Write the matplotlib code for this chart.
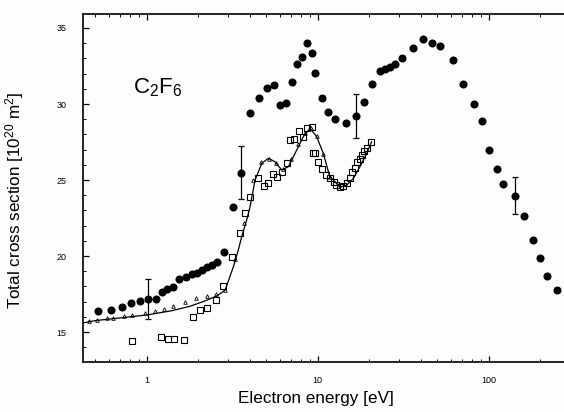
import matplotlib
matplotlib.use("Agg")
import matplotlib.pyplot as plt
from matplotlib.ticker import FixedLocator, NullFormatter

plt.rcParams["font.family"] = ["Liberation Sans", "DejaVu Sans"]
plt.rcParams["mathtext.fontset"] = "custom"
plt.rcParams["mathtext.rm"] = "Liberation Sans"
plt.rcParams["mathtext.it"] = "Liberation Sans:italic"
plt.rcParams["mathtext.default"] = "rm"

# Filled circles (total cross section, this work)
circ_E = [0.52, 0.62, 0.72, 0.81, 0.91, 1.02, 1.14, 1.23, 1.32, 1.42, 1.55, 1.70,
          1.84, 1.97, 2.10, 2.25, 2.41, 2.57, 2.85, 3.22, 3.56, 4.05, 4.57, 5.05,
          5.57, 6.04, 6.54, 7.06, 7.55, 8.15, 8.65, 9.25, 9.67, 10.6, 11.5, 12.7,
          14.6, 16.7, 18.8, 20.9, 23.2, 24.8, 26.5, 28.4, 31.3, 36.3, 41.6, 46.5,
          52.0, 61.8, 71.2, 82.3, 92.0, 101, 112, 122, 143, 162, 181, 200, 221, 250]
circ_Q = [16.38, 16.45, 16.63, 16.93, 17.06, 17.17, 17.15, 17.65, 17.81, 17.94, 18.47, 18.64,
          18.80, 18.90, 19.08, 19.26, 19.41, 19.59, 20.28, 23.24, 25.48, 29.43, 30.41, 31.07,
          31.25, 29.93, 30.05, 31.47, 32.61, 33.11, 33.99, 33.34, 32.06, 30.41, 29.49, 28.99,
          28.77, 29.21, 30.11, 31.32, 32.17, 32.30, 32.45, 32.65, 33.05, 33.66, 34.28, 33.99,
          33.84, 32.89, 31.32, 29.98, 28.90, 26.97, 25.72, 24.74, 23.97, 22.65, 21.05, 19.89,
          18.68, 17.76]

# Error bars on selected filled points
err_E = [1.02, 3.56, 16.7, 143]
err_Q = [17.17, 25.48, 29.21, 23.97]
err_d = [1.29, 1.76, 1.42, 1.21]

# Open squares
sq_E = [0.82, 1.22, 1.33, 1.45, 1.66, 1.86, 2.04, 2.25, 2.55, 2.81, 3.15, 3.52, 3.77,
        4.03, 4.50, 4.85, 5.16, 5.50, 5.82, 6.20, 6.66, 6.90, 7.29, 7.80, 8.25, 8.65,
        9.24, 9.43, 9.67, 10.1, 10.6, 11.2, 11.8, 12.4, 12.9, 13.5, 14.1, 14.8, 15.4,
        16.0, 16.5, 17.0, 17.6, 18.1, 18.8, 19.4, 20.4]
sq_Q = [14.41, 14.65, 14.54, 14.54, 14.45, 15.97, 16.45, 16.60, 17.10, 18.03, 19.95, 21.49, 22.85,
        23.90, 25.15, 24.60, 24.82, 25.40, 25.18, 25.50, 26.14, 27.60, 27.68, 28.20, 27.85, 28.40,
        28.50, 26.76, 26.80, 26.20, 25.70, 25.33, 25.10, 24.89, 24.70, 24.52, 24.60, 24.82, 25.10,
        25.54, 25.80, 26.20, 26.40, 26.64, 26.90, 27.09, 27.52]

# Small triangles
tri_E = [0.46, 0.51, 0.59, 0.64, 0.74, 0.82, 0.98, 1.12, 1.26, 1.42, 1.67, 1.94, 2.25,
         2.55, 2.88, 3.30, 3.70, 4.20, 4.70, 5.20, 5.70, 6.30, 7.00, 7.70, 8.40, 9.10,
         9.90, 10.8, 11.8]
tri_Q = [15.74, 15.79, 15.90, 15.94, 16.05, 16.12, 16.23, 16.38, 16.49, 16.71, 16.95, 17.22, 17.37,
         17.50, 17.76, 19.80, 22.20, 25.00, 26.20, 26.40, 26.10, 25.70, 26.40, 27.40, 28.10, 28.40,
         27.90, 26.70, 25.20]

# Solid curve
line_E = [0.425, 0.50, 0.70, 1.00, 1.40, 1.80, 2.20, 2.60, 2.88, 3.22, 3.44, 3.60, 3.85,
          4.03, 4.31, 4.72, 5.16, 5.64, 6.17, 6.75, 7.55, 8.25, 9.03, 9.88, 10.8, 11.8,
          12.4, 13.5, 14.8, 16.2, 17.7, 19.4, 20.7]
line_Q = [15.60, 15.75, 15.93, 16.12, 16.40, 16.70, 17.05, 17.40, 17.76, 19.30, 20.40, 21.27, 22.37,
          23.24, 25.00, 26.10, 26.43, 26.20, 25.66, 25.88, 26.97, 27.85, 28.40, 27.85, 26.76, 25.20,
          25.00, 24.52, 24.67, 25.11, 25.88, 26.76, 27.52]

fig = plt.figure(figsize=(5.64, 4.12), dpi=100)
fig.patch.set_facecolor("#fdfdfb")
ax = fig.add_axes([83/564, 1 - 362/412, 1 - 83/564, (362 - 14)/412])
ax.set_facecolor("#fdfdfb")

ax.plot(line_E, line_Q, color="black", lw=0.9, zorder=2)
ax.plot(tri_E, tri_Q, linestyle="none", marker="^", ms=2.6, mfc="none", mec="black", mew=0.6, zorder=3)
ax.plot(sq_E, sq_Q, linestyle="none", marker="s", ms=4.2, mfc="none", mec="black", mew=0.8, zorder=3)
ax.plot(circ_E, circ_Q, linestyle="none", marker="o", ms=4.8, mfc="black", mec="black", zorder=4)
ax.errorbar(err_E, err_Q, yerr=err_d, fmt="none", ecolor="black", elinewidth=0.9, capsize=2.5, capthick=0.9, zorder=4)

ax.set_xscale("log")
ax.set_xlim(0.425, 276)
ax.set_ylim(13.03, 35.92)

ax.spines["right"].set_visible(False)
for s in ["left", "top", "bottom"]:
    ax.spines[s].set_linewidth(1.2)

ax.yaxis.set_major_locator(FixedLocator([15, 20, 25, 30, 35]))
ax.yaxis.set_minor_locator(FixedLocator([v for v in range(14, 36) if v % 5 != 0]))
ax.tick_params(axis="both", which="both", direction="in", top=True, right=False, labelsize=6.5)
ax.tick_params(axis="both", which="major", length=4, width=0.9, pad=12)
ax.tick_params(axis="both", which="minor", length=2, width=0.7)
ax.tick_params(axis="x", which="major", pad=10)
ax.set_xticks([1, 10, 100])
ax.set_xticklabels(["1", "10", "100"])
ax.xaxis.set_minor_formatter(NullFormatter())

ax.set_xlabel("Electron energy [eV]", fontsize=12.3)
ax.xaxis.set_label_coords(0.484, -0.083)
ax.set_ylabel("Total cross section [10$^{20}$ m$^2$]", fontsize=12.3)
ax.yaxis.set_label_coords(-0.118, 0.463)

ax.text(0.834, 30.72, "C$_2$F$_6$", fontsize=16, ha="left", va="baseline")

fig.savefig("out.png", dpi=100, facecolor=fig.get_facecolor())
